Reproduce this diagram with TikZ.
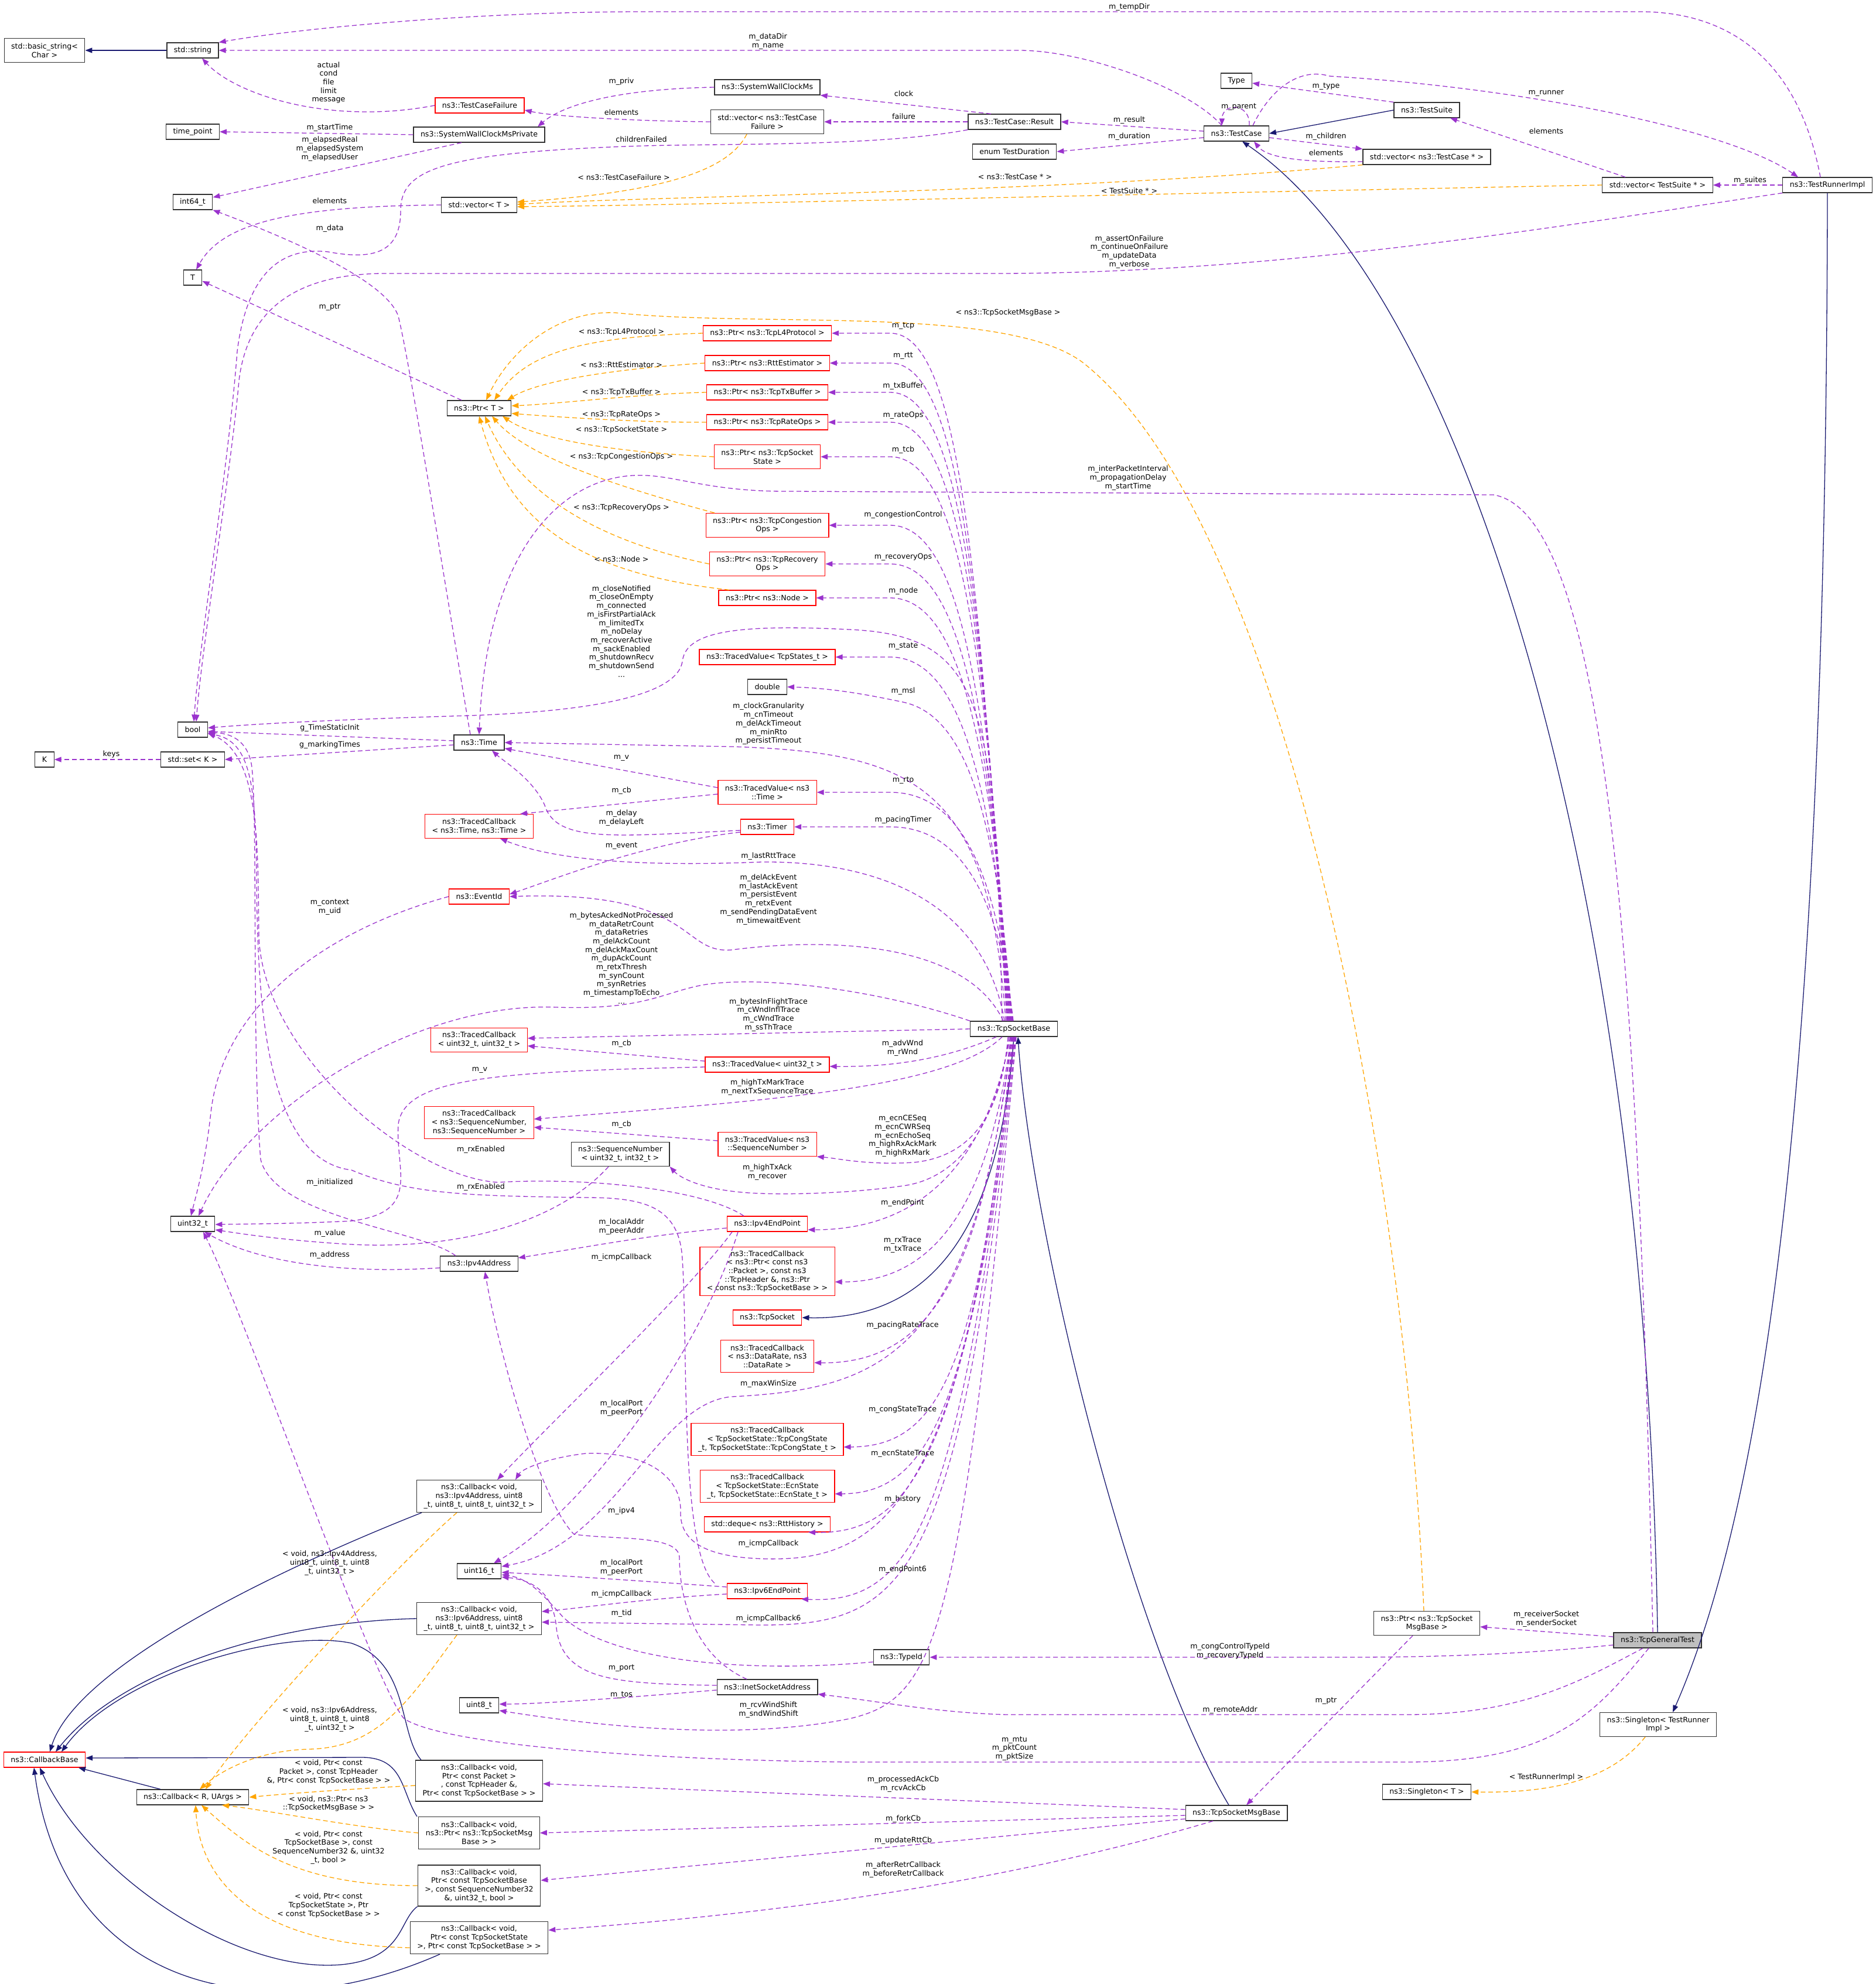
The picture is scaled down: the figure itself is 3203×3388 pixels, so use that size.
\documentclass[tikz,border=0pt]{standalone}
\usepackage{fontspec}
\setmainfont{DejaVu Sans}
\usetikzlibrary{arrows.meta}
\definecolor{mpurple}{RGB}{154,50,205}
\definecolor{morange}{RGB}{255,165,0}
\definecolor{mnavy}{RGB}{25,25,112}
\definecolor{mgray}{RGB}{191,191,191}
\definecolor{mborder}{RGB}{50,50,50}
\newcommand{\dxfont}{\fontsize{12.6}{14.7}\selectfont}
\newcommand{\elab}[3]{\node[lbl] (#1) at (#2) {#3};}
\tikzset{
  box/.style={draw=mborder, line width=1.2pt, fill=white, inner xsep=12pt, inner ysep=2pt, minimum height=26pt, align=center, font=\dxfont},
  rbox/.style={box, draw=red},
  h2/.style={minimum height=41pt}, h3/.style={minimum height=55pt},
  h4/.style={minimum height=70pt}, h5/.style={minimum height=83pt},
  mem/.style={draw=mpurple, line width=1.3pt, dash pattern=on 8pt off 5pt, -{Triangle[length=12pt,width=9pt]}},
  tmpl/.style={draw=morange, line width=1.3pt, dash pattern=on 8pt off 5pt, -{Triangle[length=12pt,width=9pt]}},
  inh/.style={draw=mnavy, line width=1.3pt, -{Triangle[length=12pt,width=9pt]}},
  lbl/.style={font=\dxfont, align=center, inner sep=0pt}
}
\begin{document}
\begin{tikzpicture}[x=1pt,y=-1pt]
\fill[white] (0,0) rectangle (3203,3388);
\useasboundingbox (0,0) rectangle (3203,3388);

% ---------- nodes ----------
\node[box,h2] (bstr) at (76,86) {std::basic\_string<\\Char >};
\node[box] (str) at (329,86) {std::string};
\node[box] (timept) at (329,225) {time\_point};
\node[box] (int64) at (329,345) {int64\_t};
\node[box] (T) at (329,474) {T};
\node[box] (bool) at (329,1246) {bool};
\node[box] (K) at (76,1297) {K};
\node[box] (setK) at (329,1297) {std::set< K >};
\node[box] (u32) at (329,2090) {uint32\_t};
\node[box] (cbR) at (329,3069) {ns3::Callback< R, UArgs >};
\node[rbox] (cbbase) at (76,3005) {ns3::CallbackBase};

\node[rbox] (tcf) at (819,180) {ns3::TestCaseFailure};
\node[box] (swcp) at (818,230) {ns3::SystemWallClockMsPrivate};
\node[box] (vecT) at (818,350) {std::vector< T >};
\node[box] (ptrT) at (818,697) {ns3::Ptr< T >};
\node[box] (time) at (818,1268) {ns3::Time};
\node[rbox,h2] (tcTT) at (818,1411) {ns3::TracedCallback\\< ns3::Time, ns3::Time >};
\node[rbox] (eventid) at (818,1531) {ns3::EventId};
\node[rbox,h2] (tcUU) at (818,1776) {ns3::TracedCallback\\< uint32\_t, uint32\_t >};
\node[rbox,h3] (tcSS) at (818,1917) {ns3::TracedCallback\\< ns3::SequenceNumber,\\ ns3::SequenceNumber >};
\node[box] (ipv4addr) at (818,2158) {ns3::Ipv4Address};
\node[box,h3] (cb4) at (818,2555) {ns3::Callback< void,\\ ns3::Ipv4Address, uint8\\\_t, uint8\_t, uint8\_t, uint32\_t >};
\node[box] (u16) at (818,2683) {uint16\_t};
\node[box,h3] (cb6) at (818,2764) {ns3::Callback< void,\\ ns3::Ipv6Address, uint8\\\_t, uint8\_t, uint8\_t, uint32\_t >};
\node[box] (u8) at (818,2912) {uint8\_t};
\node[box,h4] (cbPkt) at (818,3041) {ns3::Callback< void,\\ Ptr< const Packet >\\, const TcpHeader \&,\\ Ptr< const TcpSocketBase > >};
\node[box,h3] (cbMsg) at (818,3130) {ns3::Callback< void,\\ ns3::Ptr< ns3::TcpSocketMsg\\Base > >};
\node[box,h4] (cbSeq) at (818,3220) {ns3::Callback< void,\\ Ptr< const TcpSocketBase\\ >, const SequenceNumber32\\ \&, uint32\_t, bool >};
\node[box,h3] (cbSt) at (818,3309) {ns3::Callback< void,\\ Ptr< const TcpSocketState\\ >, Ptr< const TcpSocketBase > >};

\node[box,h2] (seqnum) at (1059,1971) {ns3::SequenceNumber\\< uint32\_t, int32\_t >};

\node[box] (swc) at (1310,149) {ns3::SystemWallClockMs};
\node[box,h2] (vecTCF) at (1310,208) {std::vector< ns3::TestCase\\Failure >};
\node[rbox] (pL4) at (1310,569) {ns3::Ptr< ns3::TcpL4Protocol >};
\node[rbox] (pRtt) at (1310,620) {ns3::Ptr< ns3::RttEstimator >};
\node[rbox] (pTx) at (1310,670) {ns3::Ptr< ns3::TcpTxBuffer >};
\node[rbox] (pRate) at (1310,721) {ns3::Ptr< ns3::TcpRateOps >};
\node[rbox,h2] (pTcb) at (1310,780) {ns3::Ptr< ns3::TcpSocket\\State >};
\node[rbox,h2] (pCong) at (1310,897) {ns3::Ptr< ns3::TcpCongestion\\Ops >};
\node[rbox,h2] (pRec) at (1310,963) {ns3::Ptr< ns3::TcpRecovery\\Ops >};
\node[rbox] (pNode) at (1310,1021) {ns3::Ptr< ns3::Node >};
\node[rbox] (tvState) at (1310,1122) {ns3::TracedValue< TcpStates\_t >};
\node[box] (double) at (1310,1173) {double};
\node[rbox,h2] (tvTime) at (1310,1353) {ns3::TracedValue< ns3\\::Time >};
\node[rbox] (timer) at (1310,1412) {ns3::Timer};
\node[rbox] (tvU) at (1310,1818) {ns3::TracedValue< uint32\_t >};
\node[rbox,h2] (tvSeq) at (1310,1954) {ns3::TracedValue< ns3\\::SequenceNumber >};
\node[rbox] (ep4) at (1310,2090) {ns3::Ipv4EndPoint};
\node[rbox,h5] (tcPkt) at (1310,2171) {ns3::TracedCallback\\< ns3::Ptr< const ns3\\::Packet >, const ns3\\::TcpHeader \&, ns3::Ptr\\< const ns3::TcpSocketBase > >};
\node[rbox] (tcpsock) at (1310,2250) {ns3::TcpSocket};
\node[rbox,h3] (tcRate) at (1310,2316) {ns3::TracedCallback\\< ns3::DataRate, ns3\\::DataRate >};
\node[rbox,h3] (tcCong) at (1310,2458) {ns3::TracedCallback\\< TcpSocketState::TcpCongState\\\_t, TcpSocketState::TcpCongState\_t >};
\node[rbox,h3] (tcEcn) at (1310,2538) {ns3::TracedCallback\\< TcpSocketState::EcnState\\\_t, TcpSocketState::EcnState\_t >};
\node[rbox] (deque) at (1310,2603) {std::deque< ns3::RttHistory >};
\node[rbox] (ep6) at (1310,2717) {ns3::Ipv6EndPoint};
\node[box] (inet) at (1310,2881) {ns3::InetSocketAddress};
\node[box] (typeid) at (1539,2830) {ns3::TypeId};

\node[box] (result) at (1732,208) {ns3::TestCase::Result};
\node[box] (dur) at (1732,259) {enum TestDuration};
\node[box] (tsb) at (1731,1757) {ns3::TcpSocketBase};
\node[box] (msgbase) at (2111,3096) {ns3::TcpSocketMsgBase};

\node[box] (type) at (2111,138) {Type};
\node[box] (testcase) at (2111,228) {ns3::TestCase};
\node[box] (testsuite) at (2436,188) {ns3::TestSuite};
\node[box] (vecTC) at (2436,268) {std::vector< ns3::TestCase * >};
\node[box,h2] (pMsg) at (2436,2772) {ns3::Ptr< ns3::TcpSocket\\MsgBase >};
\node[box] (singT) at (2436,3060) {ns3::Singleton< T >};
\node[box] (vecTS) at (2830,316) {std::vector< TestSuite * >};
\node[box,fill=mgray] (tgt) at (2830,2801) {ns3::TcpGeneralTest};
\node[box,h2] (singR) at (2831,2945) {ns3::Singleton< TestRunner\\Impl >};
\node[box] (runner) at (3120,316) {ns3::TestRunnerImpl};

% ---------- inheritance ----------
\draw[inh] (str.west) -- (bstr.east);
\draw[inh] (testsuite.west) -- (testcase.east);
\draw[inh] (tgt.north) .. controls (2810,1500) and (2500,500) .. ([xshift=10pt]testcase.south);
\draw[inh] (tsb.south) .. controls (1710,2050) and (1620,2256) .. (tcpsock.east);
\draw[inh] ([xshift=-13pt]msgbase.north) .. controls (1930,2800) and (1760,2100) .. ([xshift=7pt]tsb.south);
\draw[inh] (runner.south) .. controls (3118,1800) and (3020,2550) .. ([xshift=25pt]singR.north);
\draw[inh] ([xshift=-98pt]cb4.south) .. controls (450,2690) and (130,2850) .. ([xshift=9pt]cbbase.north);
\draw[inh] (cb6.west) .. controls (450,2770) and (200,2860) .. ([xshift=19pt]cbbase.north);
\draw[inh] ([xshift=-99pt]cbPkt.north) .. controls (680,2960) and (700,2840) .. (600,2806) .. controls (480,2780) and (200,2860) .. ([xshift=29pt]cbbase.north);
\draw[inh] ([xshift=-55pt]cbR.north) -- ([xshift=58pt]cbbase.south);
\draw[inh] ([xshift=-106pt]cbMsg.north) .. controls (685,3060) and (690,3002) .. (620,3001) -- ([yshift=3pt]cbbase.east);
\draw[inh] (cbSeq.south west) .. controls (680,3280) and (690,3345) .. (582,3355) .. controls (400,3370) and (150,3200) .. ([xshift=-8pt]cbbase.south);
\draw[inh] ([xshift=-67pt]cbSt.south) .. controls (450,3470) and (110,3400) .. ([xshift=-18pt]cbbase.south);

% ---------- top members ----------
\draw[mem] ([xshift=-12pt]runner.north) .. controls (3070,100) and (2950,20) .. (2800,20) -- (1100,20) .. controls (800,20) and (500,50) .. (str.north east);
\draw[mem] ([xshift=-25pt]testcase.north) .. controls (2030,150) and (1850,86) .. (1740,86) -- (str.east);
\draw[mem] (tcf.west) .. controls (560,215) and (400,160) .. ([xshift=16pt]str.south);
\draw[mem] (swc.west) .. controls (1050,152) and (960,180) .. ([xshift=100pt]swcp.north);
\draw[mem] (vecTCF.west) .. controls (1100,207) and (950,200) .. ([yshift=-8pt]tcf.east);
\draw[mem] (swcp.west) -- (timept.east);
\draw[mem] ([xshift=-30pt]swcp.south) -- ([yshift=8pt]int64.east);
\draw[mem] ([xshift=-40pt]result.north) -- (swc.south east);
\draw[mem] (result.west) -- (vecTCF.east);
\draw[mem] (result.south west) .. controls (1500,250) and (1250,245) .. (1100,249) .. controls (750,260) and (684,290) .. (684,360) .. controls (684,430) and (640,445) .. (560,430) .. controls (470,420) and (420,480) .. (405,600) .. controls (390,800) and (340,1100) .. ([xshift=2pt]bool.north);
\draw[mem] (runner.south west) .. controls (2700,380) and (2200,467) .. (1700,467) -- (650,467) .. controls (480,470) and (420,550) .. (408,650) .. controls (395,800) and (345,1100) .. ([xshift=6pt]bool.north);
\draw[mem] ([xshift=28pt]testcase.north) .. controls (2170,150) and (2220,115) .. (2270,130) .. controls (2600,150) and (2950,220) .. ([xshift=-50pt]runner.north);
\draw[mem] ([yshift=4pt]testcase.west) -- (result.east);
\draw[mem] ([yshift=-7pt]testcase.west) -- (dur.east);
\draw[mem] ([xshift=22pt]testcase.north) .. controls (2135,175) and (2087,175) .. ([xshift=-25pt]testcase.north);
\draw[mem] (testsuite.north west) -- ([yshift=-4pt]type.east);
\draw[mem] ([yshift=-7pt]testcase.east) -- (vecTC.north west);
\draw[mem] ([yshift=-8pt]vecTC.west) .. controls (2200,278) and (2160,265) .. ([xshift=30pt]testcase.south);
\draw[mem] ([xshift=-55pt]vecTS.north) -- ([xshift=40pt]testsuite.south);
\draw[mem] (runner.west) -- (vecTS.east);

% ---------- templates (top) ----------
\draw[tmpl] ([xshift=-35pt]vecTCF.south) .. controls (1240,300) and (1100,330) .. ([yshift=5pt]vecT.east);
\draw[tmpl] (vecTC.south west) .. controls (1800,330) and (1100,335) .. ([yshift=1pt]vecT.east);
\draw[tmpl] (vecTS.west) .. controls (2000,330) and (1200,350) .. ([yshift=-3pt]vecT.east);
\draw[tmpl] ([xshift=-22pt]singR.south) .. controls (2750,3040) and (2650,3062) .. (singT.east);
\draw[tmpl] ([xshift=-5pt]pMsg.north) .. controls (2400,2000) and (2200,900) .. (1850,620) .. controls (1720,520) and (1300,560) .. (1050,534) .. controls (950,530) and (870,600) .. ([xshift=12pt]ptrT.north);
\draw[tmpl] (pL4.west) .. controls (1000,575) and (900,600) .. ([xshift=26pt]ptrT.north);
\draw[tmpl] (pRtt.west) .. controls (1050,630) and (920,650) .. ([xshift=48pt]ptrT.north);
\draw[tmpl] (pTx.west) .. controls (1100,672) and (950,690) .. ([yshift=4pt]ptrT.east);
\draw[tmpl] (pRate.west) .. controls (1100,722) and (950,712) .. ([yshift=-9pt]ptrT.east);
\draw[tmpl] (pTcb.west) .. controls (1000,770) and (900,740) .. ([xshift=40pt]ptrT.south);
\draw[tmpl] ([xshift=-90pt]pCong.north) .. controls (1050,830) and (900,780) .. ([xshift=22pt]ptrT.south);
\draw[tmpl] (pRec.west) .. controls (1000,920) and (880,830) .. ([xshift=10pt]ptrT.south);
\draw[tmpl] ([xshift=-65pt]pNode.north) .. controls (1000,980) and (870,900) .. ([xshift=0pt]ptrT.south);

% ---------- left members ----------
\draw[mem] ([xshift=-15pt]time.north) .. controls (760,1000) and (700,620) .. (680,540) .. controls (660,480) and (500,410) .. (int64.south east);
\draw[mem] ([xshift=-30pt]ptrT.north) -- ([yshift=-6pt]T.east);
\draw[mem] (vecT.west) .. controls (500,352) and (380,380) .. ([xshift=6pt]T.north);
\draw[mem] ([yshift=3pt]time.west) -- ([yshift=-3pt]bool.east);
\draw[mem] ([yshift=-4pt]time.west) -- (setK.east);
\draw[mem] (setK.west) -- (K.east);
\draw[mem] ([yshift=8pt]tvTime.west) -- ([yshift=-10pt]time.east);
\draw[mem] ([yshift=-3pt]tvTime.west) -- ([xshift=70pt]tcTT.north);
\draw[mem] ([yshift=-6pt]timer.west) .. controls (1050,1428) and (950,1440) .. (930,1375) .. controls (910,1330) and (860,1300) .. ([xshift=22pt]time.south);
\draw[mem] ([yshift=-9pt]timer.west) .. controls (1100,1440) and (950,1500) .. ([yshift=4pt]eventid.east);
\draw[mem] (eventid.west) .. controls (550,1590) and (380,1720) .. (360,1900) .. controls (350,1990) and (335,2040) .. ([xshift=-3pt]u32.north);
\draw[mem] ([yshift=6pt]tvU.west) -- ([yshift=-10pt]tcUU.east);
\draw[mem] ([yshift=-4pt]tvU.west) .. controls (850,1830) and (690,1840) .. (680,1920) .. controls (675,2000) and (720,2070) .. (600,2085) .. controls (500,2090) and (420,2090) .. ([yshift=-1pt]u32.east);
\draw[mem] ([yshift=6pt]tvSeq.west) -- ([yshift=-8pt]tcSS.east);
\draw[mem] ([xshift=-20pt]seqnum.south) .. controls (960,2080) and (800,2135) .. (600,2125) .. controls (480,2118) and (400,2105) .. ([yshift=-10pt]u32.east);
\draw[mem] ([yshift=-7pt]ipv4addr.west) .. controls (600,2175) and (450,2160) .. ([xshift=20pt]u32.south);
\draw[mem] ([xshift=-40pt]ipv4addr.north) .. controls (720,2100) and (470,2080) .. (445,1980) .. controls (430,1800) and (440,1400) .. (430,1310) .. controls (425,1270) and (400,1252) .. ([yshift=-5pt]bool.east);
\draw[mem] ([xshift=-40pt]ep4.north) .. controls (1200,2030) and (1000,2010) .. (850,2019) .. controls (700,2010) and (450,1800) .. (442,1600) .. controls (440,1450) and (445,1290) .. ([yshift=-6pt]bool.east);
\draw[mem] ([xshift=-90pt]ep6.north) .. controls (1160,2650) and (1175,2300) .. (1165,2150) .. controls (1160,2060) and (1100,2045) .. (1000,2045) .. controls (800,2042) and (700,2040) .. (600,1998) .. controls (450,1980) and (440,1700) .. (438,1500) .. controls (437,1350) and (430,1265) .. ([yshift=-7pt]bool.east);
\draw[mem] ([yshift=-7pt]ep4.west) .. controls (1100,2110) and (1000,2130) .. ([yshift=10pt]ipv4addr.east);
\draw[mem] ([xshift=-60pt]ep4.south) .. controls (1180,2200) and (950,2420) .. ([xshift=31pt]cb4.north);
\draw[mem] ([xshift=-50pt]ep4.south) .. controls (1200,2300) and (1000,2580) .. ([xshift=25pt]u16.north);
\draw[mem] ([yshift=7pt]ep6.west) .. controls (1100,2700) and (950,2690) .. ([yshift=-2pt]u16.east);
\draw[mem] ([yshift=-5pt]ep6.west) .. controls (1100,2730) and (1000,2745) .. ([yshift=12pt]cb6.east);
\draw[mem] ([yshift=-8pt]typeid.west) .. controls (1250,2860) and (1030,2830) .. (960,2760) .. controls (920,2715) and (900,2695) .. ([yshift=-6pt]u16.east);
\draw[mem] ([yshift=3pt]inet.west) .. controls (1050,2875) and (960,2870) .. (950,2780) .. controls (945,2720) and (910,2698) .. ([yshift=-10pt]u16.east);
\draw[mem] ([yshift=-5pt]inet.west) .. controls (1000,2905) and (900,2910) .. ([yshift=2pt]u8.east);
\draw[mem] ([xshift=-35pt]inet.north) .. controls (1170,2820) and (1160,2700) .. (1160,2660) .. controls (1160,2620) and (1050,2630) .. (980,2620) .. controls (920,2560) and (850,2300) .. ([xshift=10pt]ipv4addr.south);

% ---------- templates (callbacks) ----------
\draw[tmpl] ([xshift=-38pt]cb4.south) .. controls (680,2670) and (420,2950) .. ([xshift=22pt]cbR.north);
\draw[tmpl] ([xshift=-38pt]cb6.south) .. controls (700,2900) and (650,2985) .. (526,2987) .. controls (430,2990) and (370,3030) .. ([xshift=12pt]cbR.north);
\draw[tmpl] ([yshift=-8pt]cbPkt.west) .. controls (600,3055) and (500,3062) .. (cbR.east);
\draw[tmpl] (cbMsg.west) .. controls (600,3120) and (450,3090) .. ([xshift=50pt]cbR.south);
\draw[tmpl] (cbSeq.west) .. controls (500,3220) and (420,3150) .. ([xshift=15pt]cbR.south);
\draw[tmpl] ([yshift=-17pt]cbSt.west) .. controls (420,3320) and (340,3200) .. ([xshift=5pt]cbR.south);

% ---------- TcpSocketBase members (upward) ----------
\draw[mem] ([xshift=-12pt]tsb.north) .. controls (1672,981) and (1640,569) .. (1520,569) -- (pL4.east);
\draw[mem] ([xshift=-11pt]tsb.north) .. controls (1675,1014) and (1640,620) .. (1520,620) -- (pRtt.east);
\draw[mem] ([xshift=-10pt]tsb.north) .. controls (1678,1046) and (1640,670) .. (1520,670) -- (pTx.east);
\draw[mem] ([xshift=-9pt]tsb.north) .. controls (1681,1079) and (1640,721) .. (1520,721) -- (pRate.east);
\draw[mem] ([xshift=-8pt]tsb.north) .. controls (1684,1118) and (1640,780) .. (1520,780) -- (pTcb.east);
\draw[mem] ([xshift=-7pt]tsb.north) .. controls (1687,1194) and (1640,897) .. (1520,897) -- (pCong.east);
\draw[mem] ([xshift=-6pt]tsb.north) .. controls (1690,1237) and (1640,963) .. (1520,963) -- (pRec.east);
\draw[mem] ([xshift=-5pt]tsb.north) .. controls (1693,1274) and (1640,1021) .. (1520,1021) -- (pNode.east);
\draw[mem] ([xshift=-4pt]tsb.north) .. controls (1696,1340) and (1640,1122) .. (1520,1122) -- (tvState.east);
\draw[mem] ([xshift=-3pt]tsb.north) .. controls (1700,1360) and (1640,1220) .. (1542,1199) .. controls (1480,1186) and (1420,1175) .. (double.east);
\draw[mem] ([xshift=-14pt]tsb.north) .. controls (1690,1340) and (1560,1285) .. (1250,1275) -- (time.east);
\draw[mem] ([xshift=-2pt]tsb.north) .. controls (1702,1490) and (1640,1353) .. (1520,1353) -- (tvTime.east);
\draw[mem] ([xshift=-1pt]tsb.north) .. controls (1705,1529) and (1640,1412) .. (1520,1412) -- (timer.east);
\draw[mem] ([xshift=-16pt]tsb.north) .. controls (1680,1540) and (1500,1470) .. (1300,1472) .. controls (1100,1480) and (950,1470) .. ([xshift=36pt]tcTT.south);
\draw[mem] ([xshift=-18pt]tsb.north) .. controls (1650,1610) and (1420,1600) .. (1250,1622) .. controls (1160,1630) and (1190,1520) .. (eventid.east);
\draw[mem] ([xshift=-20pt]tsb.north) .. controls (1700,1200) and (1680,1085) .. (1450,1075) .. controls (1250,1065) and (1170,1080) .. (1165,1130) .. controls (1155,1190) and (1000,1215) .. (800,1222) .. controls (600,1228) and (450,1235) .. ([yshift=3pt]bool.east);
\draw[mem] (tsb.north west) .. controls (1500,1690) and (1300,1665) .. (1200,1682) .. controls (1130,1695) and (1100,1725) .. (950,1720) .. controls (700,1710) and (420,1900) .. ([xshift=10pt]u32.north);
\draw[mem] (tsb.west) -- ([yshift=3pt]tcUU.east);

% ---------- TcpSocketBase members (downward) ----------
\draw[mem] ([xshift=-30pt]tsb.south) .. controls (1600,1815) and (1500,1822) .. ([yshift=-3pt]tvU.east);
\draw[mem] ([xshift=-20pt]tsb.south) .. controls (1620,1860) and (1300,1880) .. ([yshift=6pt]tcSS.east);
\draw[mem] ([xshift=-10pt]tsb.south) .. controls (1710,1900) and (1660,1975) .. (1560,1985) .. controls (1480,1990) and (1430,1978) .. (tvSeq.south east);
\draw[mem] ([xshift=-8pt]tsb.south) .. controls (1705,1900) and (1650,2010) .. (1542,2025) .. controls (1450,2038) and (1350,2040) .. (1300,2038) .. controls (1200,2035) and (1160,2010) .. (seqnum.south east);
\draw[mem] ([xshift=-6pt]tsb.south) .. controls (1690,1950) and (1600,2100) .. ([yshift=-10pt]ep4.east);
\draw[mem] ([xshift=-5pt]tsb.south) .. controls (1690,2050) and (1600,2190) .. ([yshift=-18pt]tcPkt.east);
\draw[mem] ([xshift=-4pt]tsb.south) .. controls (1680,2150) and (1600,2330) .. ([yshift=-11pt]tcRate.east);
\draw[mem] ([xshift=-3pt]tsb.south) .. controls (1660,2320) and (1500,2372) .. (1250,2385) .. controls (1120,2395) and (1050,2640) .. ([yshift=8pt]u16.east);
\draw[mem] ([xshift=-2pt]tsb.south) .. controls (1670,2350) and (1600,2470) .. ([yshift=-13pt]tcCong.east);
\draw[mem] ([xshift=-1pt]tsb.south) .. controls (1660,2420) and (1580,2550) .. ([yshift=-13pt]tcEcn.east);
\draw[mem] (tsb.south) .. controls (1650,2500) and (1550,2620) .. ([xshift=70pt]deque.south);
\draw[mem] ([xshift=1pt]tsb.south) .. controls (1650,2580) and (1500,2665) .. (1310,2662) .. controls (1200,2660) and (1160,2630) .. (1162,2580) .. controls (1163,2520) and (1100,2478) .. (1000,2482) .. controls (930,2490) and (890,2510) .. ([xshift=62pt]cb4.north);
\draw[mem] ([xshift=2pt]tsb.south) .. controls (1640,2600) and (1560,2740) .. ([xshift=58pt]ep6.south);
\draw[mem] ([xshift=3pt]tsb.south) .. controls (1640,2700) and (1550,2775) .. (1300,2775) -- ([yshift=-6pt]cb6.east);
\draw[mem] ([xshift=4pt]tsb.south) .. controls (1640,2800) and (1600,2900) .. (1450,2935) .. controls (1300,2965) and (1100,2960) .. ([yshift=-9pt]u8.east);

% ---------- TcpGeneralTest / TcpSocketMsgBase ----------
\draw[mem] ([xshift=-8pt]tgt.north) .. controls (2800,1800) and (2760,880) .. (2550,845) -- (1350,839) .. controls (1200,840) and (1150,808) .. (1080,812) .. controls (950,820) and (830,950) .. (time.north);
\draw[mem] ([yshift=6pt]tgt.west) -- ([yshift=-6pt]pMsg.east);
\draw[mem] ([yshift=-8pt]tgt.west) .. controls (2600,2825) and (2450,2830) .. (2300,2830) -- (typeid.east);
\draw[mem] ([xshift=-25pt]tgt.south) .. controls (2700,2870) and (2600,2928) .. (2400,2928) -- (1720,2928) .. controls (1600,2925) and (1500,2905) .. ([yshift=-12pt]inet.east);
\draw[mem] ([xshift=-15pt]tgt.south) .. controls (2720,2930) and (2650,3009) .. (2400,3009) -- (1450,3009) .. controls (1100,3005) and (760,2980) .. (690,2935) .. controls (640,2880) and (420,2250) .. ([xshift=18pt]u32.south);
\draw[mem] ([xshift=-24pt]pMsg.south) -- ([xshift=17pt]msgbase.north);
\draw[mem] ([yshift=6pt]msgbase.west) -- ([yshift=-5pt]cbPkt.east);
\draw[mem] ([yshift=-4pt]msgbase.west) -- (cbMsg.east);
\draw[mem] ([yshift=-10pt]msgbase.west) -- ([yshift=9pt]cbSeq.east);
\draw[mem] ([xshift=-40pt]msgbase.south) .. controls (1700,3220) and (1300,3270) .. ([yshift=13pt]cbSt.east);

% ---------- labels ----------
\elab{a1}{1928,12}{m\_tempDir}
\elab{a2}{1311,71}{m\_dataDir\\m\_name}
\elab{a3}{561,141}{actual\\cond\\file\\limit\\message}
\elab{a4}{1061,139}{m\_priv}
\elab{a5}{1061,192}{elements}
\elab{a6}{563,218}{m\_startTime}
\elab{a7}{563,254}{m\_elapsedReal\\m\_elapsedSystem\\m\_elapsedUser}
\elab{a8}{1543,160}{clock}
\elab{a9}{1543,199}{failure}
\elab{a10}{1095,238}{childrenFailed}
\elab{a11}{1928,205}{m\_result}
\elab{a12}{1928,233}{m\_duration}
\elab{a13}{2115,183}{m\_parent}
\elab{a14}{2264,148}{m\_type}
\elab{a15}{2640,159}{m\_runner}
\elab{a16}{2640,224}{elements}
\elab{a17}{2264,233}{m\_children}
\elab{a18}{2264,261}{elements}
\elab{a19}{2988,308}{m\_suites}
\elab{a20}{1065,303}{< ns3::TestCaseFailure >}
\elab{a21}{1733,302}{< ns3::TestCase * >}
\elab{a22}{1928,326}{< TestSuite * >}
\elab{a23}{563,343}{elements}
\elab{a24}{563,390}{m\_data}
\elab{a25}{1928,430}{m\_assertOnFailure\\m\_continueOnFailure\\m\_updateData\\m\_verbose}
\elab{a26}{563,525}{m\_ptr}
\elab{a27}{1721,534}{< ns3::TcpSocketMsgBase >}
\elab{a28}{1926,816}{m\_interPacketInterval\\m\_propagationDelay\\m\_startTime}
\elab{b1}{1061,567}{< ns3::TcpL4Protocol >}
\elab{b2}{1061,623}{< ns3::RttEstimator >}
\elab{b3}{1061,670}{< ns3::TcpTxBuffer >}
\elab{b4}{1061,708}{< ns3::TcpRateOps >}
\elab{b5}{1061,734}{< ns3::TcpSocketState >}
\elab{b6}{1061,780}{< ns3::TcpCongestionOps >}
\elab{b7}{1061,867}{< ns3::TcpRecoveryOps >}
\elab{b8}{1061,955}{< ns3::Node >}
\elab{c1}{1542,557}{m\_tcp}
\elab{c2}{1542,608}{m\_rtt}
\elab{c3}{1542,659}{m\_txBuffer}
\elab{c4}{1542,709}{m\_rateOps}
\elab{c5}{1542,768}{m\_tcb}
\elab{c6}{1542,879}{m\_congestionControl}
\elab{c7}{1542,951}{m\_recoveryOps}
\elab{c8}{1542,1009}{m\_node}
\elab{c9}{1542,1104}{m\_state}
\elab{c10}{1542,1180}{m\_msl}
\elab{c11}{1312,1236}{m\_clockGranularity\\m\_cnTimeout\\m\_delAckTimeout\\m\_minRto\\m\_persistTimeout}
\elab{c12}{1542,1333}{m\_rto}
\elab{c13}{1542,1400}{m\_pacingTimer}
\elab{c14}{1312,1462}{m\_lastRttTrace}
\elab{c15}{1312,1536}{m\_delAckEvent\\m\_lastAckEvent\\m\_persistEvent\\m\_retxEvent\\m\_sendPendingDataEvent\\m\_timewaitEvent}
\elab{c16}{1061,1078}{m\_closeNotified\\m\_closeOnEmpty\\m\_connected\\m\_isFirstPartialAck\\m\_limitedTx\\m\_noDelay\\m\_recoverActive\\m\_sackEnabled\\m\_shutdownRecv\\m\_shutdownSend\\...}
\elab{c17}{1061,1636}{m\_bytesAckedNotProcessed\\m\_dataRetrCount\\m\_dataRetries\\m\_delAckCount\\m\_delAckMaxCount\\m\_dupAckCount\\m\_retxThresh\\m\_synCount\\m\_synRetries\\m\_timestampToEcho\\...}
\elab{c18}{1312,1733}{m\_bytesInFlightTrace\\m\_cWndInflTrace\\m\_cWndTrace\\m\_ssThTrace}
\elab{c19}{1541,1790}{m\_advWnd\\m\_rWnd}
\elab{c20}{1310,1857}{m\_highTxMarkTrace\\m\_nextTxSequenceTrace}
\elab{c21}{1541,1940}{m\_ecnCESeq\\m\_ecnCWRSeq\\m\_ecnEchoSeq\\m\_highRxAckMark\\m\_highRxMark}
\elab{c22}{1310,2002}{m\_highTxAck\\m\_recover}
\elab{c23}{1541,2054}{m\_endPoint}
\elab{c24}{1541,2126}{m\_rxTrace\\m\_txTrace}
\elab{c25}{1541,2263}{m\_pacingRateTrace}
\elab{c26}{1312,2363}{m\_maxWinSize}
\elab{c27}{1541,2407}{m\_congStateTrace}
\elab{c28}{1541,2482}{m\_ecnStateTrace}
\elab{c29}{1541,2560}{m\_history}
\elab{c30}{1312,2636}{m\_icmpCallback}
\elab{c31}{1541,2680}{m\_endPoint6}
\elab{c32}{1312,2764}{m\_icmpCallback6}
\elab{c33}{1312,2920}{m\_rcvWindShift\\m\_sndWindShift}
\elab{d1}{1732,2986}{m\_mtu\\m\_pktCount\\m\_pktSize}
\elab{d2}{1542,3047}{m\_processedAckCb\\m\_rcvAckCb}
\elab{d3}{1542,3106}{m\_forkCb}
\elab{d4}{1542,3143}{m\_updateRttCb}
\elab{d5}{1542,3193}{m\_afterRetrCallback\\m\_beforeRetrCallback}
\elab{d6}{2100,2820}{m\_congControlTypeId\\m\_recoveryTypeId}
\elab{d7}{2100,2920}{m\_remoteAddr}
\elab{d8}{2640,2765}{m\_receiverSocket\\m\_senderSocket}
\elab{d9}{2264,2905}{m\_ptr}
\elab{d10}{2640,3035}{< TestRunnerImpl >}
\elab{e1}{190,1288}{keys}
\elab{e2}{563,1243}{g\_TimeStaticInit}
\elab{e3}{563,1272}{g\_markingTimes}
\elab{e4}{1061,1294}{m\_v}
\elab{e5}{1061,1350}{m\_cb}
\elab{e6}{1061,1397}{m\_delay\\m\_delayLeft}
\elab{e7}{1061,1445}{m\_event}
\elab{e8}{563,1549}{m\_context\\m\_uid}
\elab{e9}{1061,1782}{m\_cb}
\elab{e10}{819,1827}{m\_v}
\elab{e11}{1061,1920}{m\_cb}
\elab{e12}{821,1963}{m\_rxEnabled}
\elab{e13}{821,2027}{m\_rxEnabled}
\elab{e14}{563,2019}{m\_initialized}
\elab{e15}{563,2106}{m\_value}
\elab{e16}{563,2143}{m\_address}
\elab{e17}{1061,2095}{m\_localAddr\\m\_peerAddr}
\elab{e18}{1061,2147}{m\_icmpCallback}
\elab{e19}{1061,2405}{m\_localPort\\m\_peerPort}
\elab{e20}{1061,2580}{m\_ipv4}
\elab{e21}{1061,2677}{m\_localPort\\m\_peerPort}
\elab{e22}{1061,2722}{m\_icmpCallback}
\elab{e23}{1061,2755}{m\_tid}
\elab{e24}{1061,2849}{m\_port}
\elab{e25}{1061,2895}{m\_tos}
\elab{f1}{563,2669}{< void, ns3::Ipv4Address,\\uint8\_t, uint8\_t, uint8\\\_t, uint32\_t >}
\elab{f2}{563,2936}{< void, ns3::Ipv6Address,\\uint8\_t, uint8\_t, uint8\\\_t, uint32\_t >}
\elab{f3}{561,3026}{< void, Ptr< const\\Packet >, const TcpHeader\\\&, Ptr< const TcpSocketBase > >}
\elab{f4}{561,3080}{< void, ns3::Ptr< ns3\\::TcpSocketMsgBase > >}
\elab{f5}{561,3155}{< void, Ptr< const\\TcpSocketBase >, const\\SequenceNumber32 \&, uint32\\\_t, bool >}
\elab{f6}{561,3254}{< void, Ptr< const\\TcpSocketState >, Ptr\\< const TcpSocketBase > >}
\end{tikzpicture}
\end{document}
